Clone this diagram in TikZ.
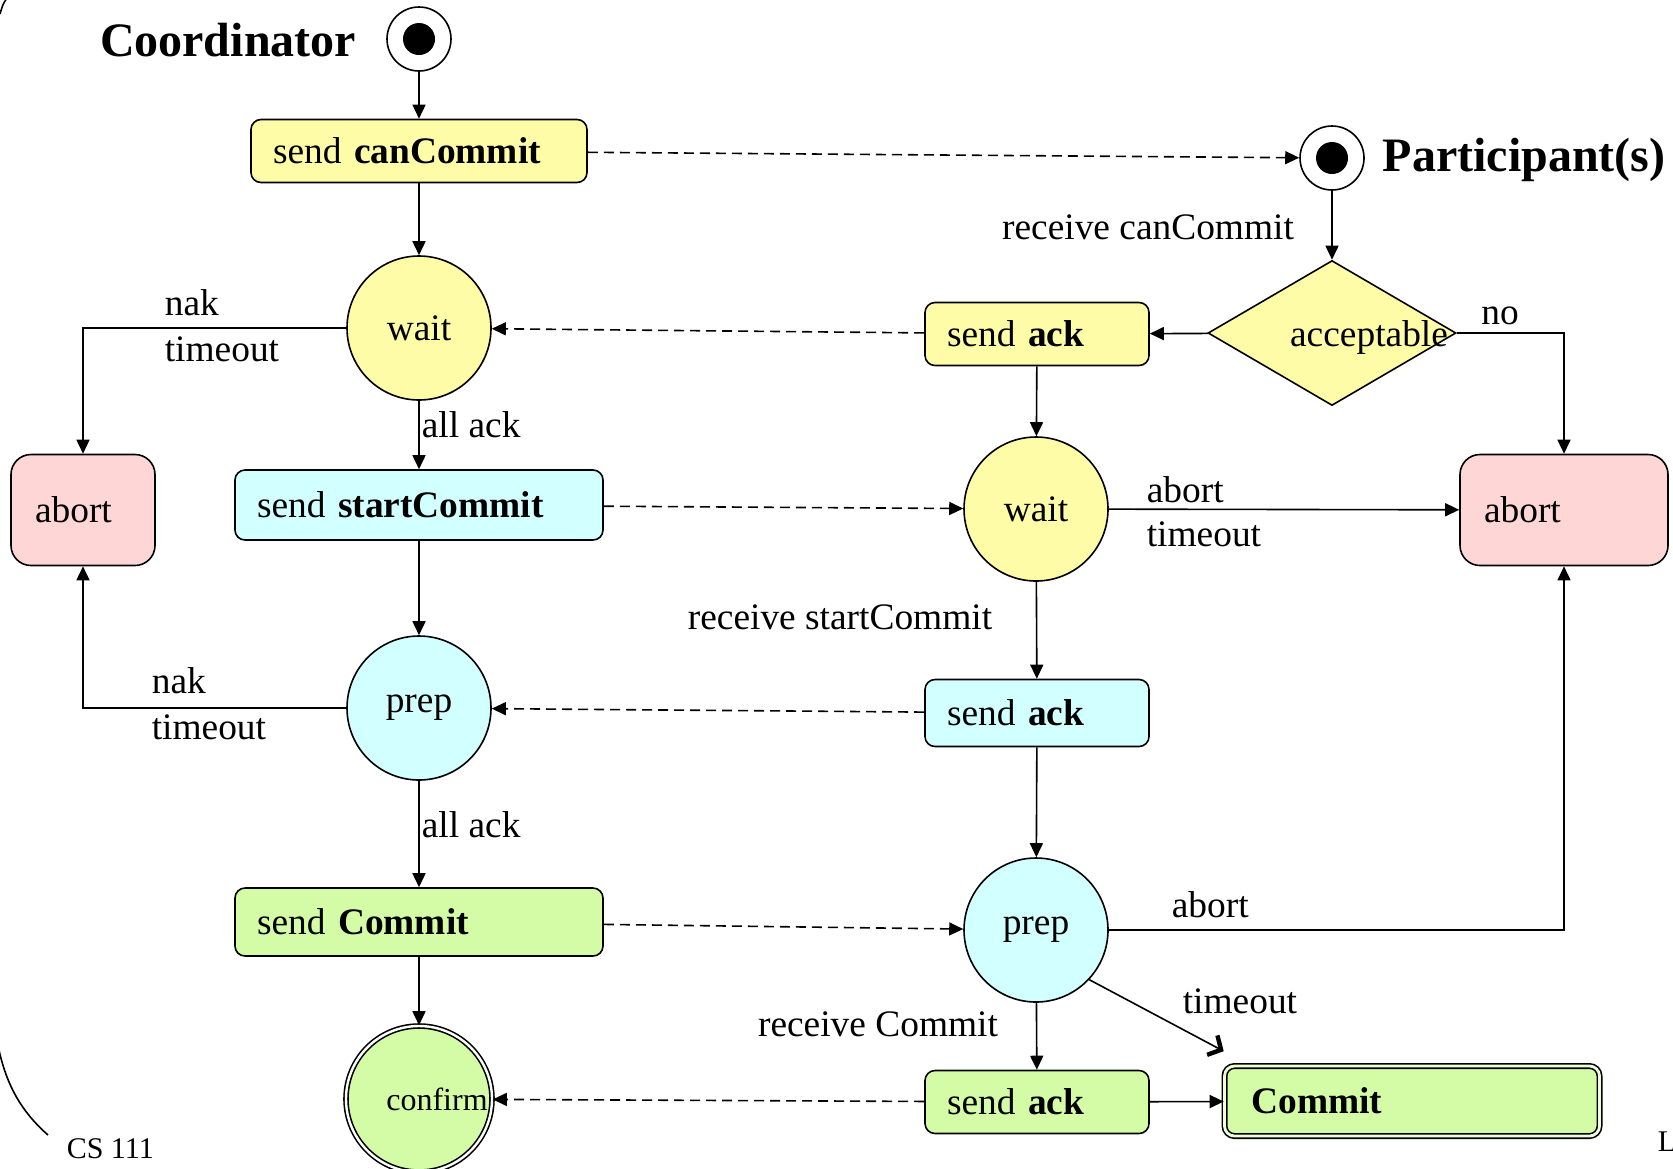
\documentclass[tikz,border=0pt]{standalone}
\usepackage{fontspec}
\setmainfont{Liberation Serif}
\usetikzlibrary{arrows.meta, shapes.geometric, calc}
\definecolor{actyellow}{RGB}{255,252,168}
\definecolor{actcyan}{RGB}{210,255,255}
\definecolor{actgreen}{RGB}{212,252,166}
\definecolor{actpink}{RGB}{255,214,214}

\begin{document}
\begin{tikzpicture}[x=0.5pt, y=-0.5pt, line width=0.8pt,
  every node/.style={font=\fontsize{18.7}{22}\selectfont},
  actbox/.style={draw, rounded corners=5pt, align=left, inner xsep=11pt, inner ysep=0pt},
  abortbox/.style={actbox, rounded corners=10pt, fill=actpink, minimum height=55.5pt, inner xsep=12pt},
  state/.style={draw, circle, minimum size=72pt, inner sep=0pt},
  startdot/.style={draw, circle, minimum size=32pt, inner sep=0pt,
    path picture={\fill (path picture bounding box.center) circle (8pt);}},
  flow/.style={-{Triangle[length=7pt, width=6.5pt]}},
  msg/.style={flow, dash pattern=on 5pt off 3pt},
  lbl/.style={inner sep=0pt},
  title/.style={font=\fontsize{24}{28}\selectfont\bfseries, inner sep=0pt}]
\useasboundingbox (0,0) rectangle (1673,1168);

% coordinator side
\node[title] (coordtitle) at (228,40) {Coordinator};
\node[startdot] (cstart) at (419,39) {};
\node[actbox, fill=actyellow, text width=146pt, minimum height=31.5pt] (cancommit) at (419,151) {send \textbf{canCommit}};
\node[state, fill=actyellow] (cwait) at (419,328) {wait};
\node[abortbox, text width=48pt] (cabort) at (83,510) {abort};
\node[actbox, fill=actcyan, text width=162pt, minimum height=35pt] (startcommit) at (419,505) {send \textbf{startCommit}};
\node[state, fill=actcyan] (cprep) at (419,708) {prep};
\node[actbox, fill=actgreen, text width=162pt, minimum height=34pt] (sendcommit) at (419,922) {send \textbf{Commit}};
\node[state, fill=actgreen, minimum size=73pt, double, double distance=1.2pt,
  label={[name=confirmtext, lbl, font=\fontsize{16}{18}\selectfont, xshift=9pt]center:confirm}] (confirm) at (419,1099) {};

% participant side
\node[startdot] (pstart) at (1332,158) {};
\node[title] (parttitle) at (1524,160) {Participant(s)};
\node[draw, diamond, fill=actyellow, minimum width=124pt, minimum height=72.5pt, inner sep=0pt,
  label={[name=accepttext, lbl, xshift=18.5pt, yshift=-2pt]center:acceptable}] (accept) at (1332,333) {};
\node[actbox, fill=actyellow, text width=90pt, minimum height=31.5pt] (ack1) at (1037,334) {send \textbf{ack}};
\node[state, fill=actyellow] (pwait) at (1036,509) {wait};
\node[abortbox, text width=80pt, minimum width=104pt] (pabort) at (1564,510) {abort};
\node[actbox, fill=actcyan, text width=90pt, minimum height=33.5pt] (ack2) at (1037,713) {send \textbf{ack}};
\node[state, fill=actcyan] (pprep) at (1036,930) {prep};
\node[actbox, fill=actgreen, text width=90pt, minimum height=31.5pt] (ack3) at (1037,1102) {send \textbf{ack}};
\node[actbox, fill=actgreen, text width=160.5pt, inner xsep=13.5pt, minimum height=35pt,
  double=actgreen!40, double distance=1.4pt] (commit) at (1412,1101) {\textbf{Commit}};

% transition labels
\node[lbl] (rcvcan) at (1148,227) {receive canCommit};
\node[lbl] (nolbl) at (1500,316) {no};
\node[lbl, anchor=west] (nakup) at (164,303) {nak};
\node[lbl, anchor=west] (toup) at (164,349) {timeout};
\node[lbl, anchor=west] (allackup) at (421,425) {all ack};
\node[lbl, anchor=west] (pabortup) at (1146,490) {abort};
\node[lbl, anchor=west] (ptoup) at (1146,534) {timeout};
\node[lbl] (rcvstart) at (840,617) {receive startCommit};
\node[lbl, anchor=west] (naklow) at (151,681) {nak};
\node[lbl, anchor=west] (tolow) at (151,727) {timeout};
\node[lbl, anchor=west] (allacklow) at (421,825) {all ack};
\node[lbl, anchor=west] (pabortlow) at (1171,905) {abort};
\node[lbl, anchor=west] (ptolow) at (1182,1001) {timeout};
\node[lbl] (rcvcommit) at (878,1024) {receive Commit};

% coordinator flow
\draw[flow] (cstart) -- (cancommit);
\draw[flow] (cancommit) -- (cwait);
\draw[flow] (cwait.west) -| (cabort.north);
\draw[flow] (cwait) -- (startcommit);
\draw[flow] (startcommit) -- (cprep);
\draw[flow] (cprep.west) -| (cabort.south);
\draw[flow] (cprep) -- (sendcommit);
\draw[flow] (sendcommit) -- (confirm);

% participant flow
\draw[flow] (pstart) -- (accept);
\draw[flow] (accept) -- (ack1);
\draw[flow] (accept.east) -| (pabort.north);
\draw[flow] (ack1) -- (pwait);
\draw[flow] (pwait) -- (pabort);
\draw[flow] (pwait) -- (ack2);
\draw[flow] (ack2) -- (pprep);
\draw[flow] (pprep.east) -| (pabort.south);
\draw[-{Straight Barb[length=5pt, width=11pt, line width=2.2pt]}] (pprep.-43) -- ([yshift=7pt]commit.north west);
\draw[flow] (pprep) -- (ack3);
\draw[flow] (ack3) -- (commit);

% messages between the two sides
\draw[msg] (cancommit) -- (pstart);
\draw[msg] (ack1) -- (cwait);
\draw[msg] (startcommit) -- (pwait);
\draw[msg] (ack2) -- (cprep);
\draw[msg] (sendcommit) -- (pprep);
\draw[msg] (ack3) -- (confirm);

% slide frame and footer
\draw (7,-2) .. controls (3,4) .. (0,14);
\draw (-3,1040) .. controls (5,1085) and (22,1112) .. (48,1135);
\node[lbl, anchor=west, font=\fontsize{15}{17}\selectfont] (course) at (66,1149) {CS 111};
\node[lbl, anchor=west, font=\fontsize{15}{17}\selectfont] (lecture) at (1657,1142) {L};
\node[lbl, anchor=west, font=\fontsize{15}{17}\selectfont] (lecturedate) at (1657,1180) {D};
\end{tikzpicture}
\end{document}
